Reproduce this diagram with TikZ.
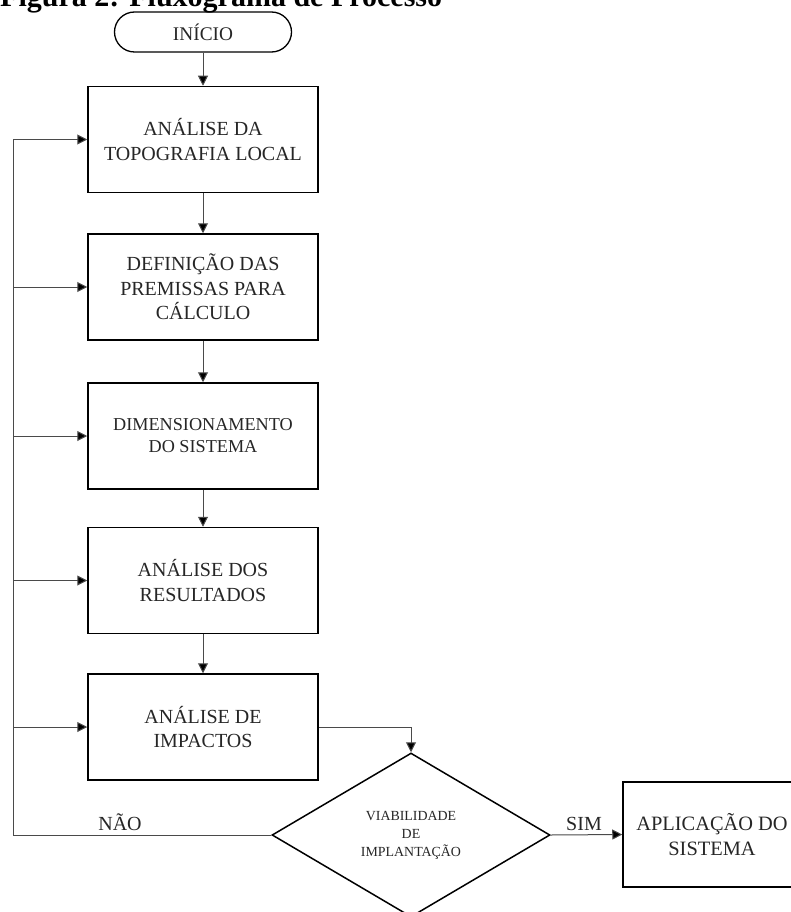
\documentclass[tikz,border=0pt]{standalone}
\usepackage{fontspec}
\setmainfont{Liberation Serif}
\usetikzlibrary{arrows.meta,shapes.geometric}
\definecolor{txt}{HTML}{262626}
\definecolor{conn}{HTML}{4A4A4A}
\tikzset{
  procbox/.style={draw=black, line width=1.5pt, minimum width=230pt, minimum height=106pt, align=center, inner sep=2pt, text=txt, font=\fontsize{20}{24.5}\selectfont},
  termbox/.style={draw=black, line width=1.3pt, rounded corners=20pt, minimum width=177pt, minimum height=40pt, text=txt, font=\fontsize{19.3}{23}\selectfont},
  decbox/.style={draw=black, line width=1.5pt, shape=diamond, minimum width=278pt, minimum height=164pt, inner sep=0pt, align=center, text=txt, font=\fontsize{13.9}{18}\selectfont},
  conn/.style={draw=conn, line width=1pt},
  arr/.style={conn, -{Triangle[length=10pt,width=10pt,fill=black]}},
  lbl/.style={text=txt, font=\fontsize{20}{24}\selectfont, inner sep=0pt}
}
\begin{document}
\begin{tikzpicture}[x=1pt,y=-1pt]
\useasboundingbox (0,0) rectangle (790,912);
\node[anchor=base west, inner sep=0pt, font=\fontsize{30}{36}\selectfont\bfseries] (title) at (0,7) {Figura 2: Fluxograma de Processo};
\node[termbox] (start) at (203,32) {INÍCIO};
\node[procbox] (b1) at (203,139.5) {ANÁLISE DA\\TOPOGRAFIA LOCAL};
\node[procbox] (b2) at (203,287) {DEFINIÇÃO DAS\\PREMISSAS PARA\\CÁLCULO};
\node[procbox, font=\fontsize{18.2}{22}\selectfont] (b3) at (203,436) {DIMENSIONAMENTO\\DO SISTEMA};
\node[procbox] (b4) at (203,580.5) {ANÁLISE DOS\\RESULTADOS};
\node[procbox] (b5) at (203,727) {ANÁLISE DE\\IMPACTOS};
\node[decbox] (d) at (411,835) {VIABILIDADE\\DE\\IMPLANTAÇÃO};
\node[procbox, minimum width=178pt, minimum height=105pt, font=\fontsize{20.4}{25}\selectfont] (b6) at (712,834.5) {APLICAÇÃO DO\\SISTEMA};
\coordinate (L) at (13,835);
\draw[arr] (start) -- (b1);
\draw[arr] (b1) -- (b2);
\draw[arr] (b2) -- (b3);
\draw[arr] (b3) -- (b4);
\draw[arr] (b4) -- (b5);
\draw[arr] (b5.east) -| (d.north);
\draw[arr] (d.east) -- (b6.west);
\draw[conn] (d.west) -- (L) -- (L |- b1.west);
\draw[arr] (L |- b1.west) -- (b1.west);
\draw[arr] (L |- b2.west) -- (b2.west);
\draw[arr] (L |- b3.west) -- (b3.west);
\draw[arr] (L |- b4.west) -- (b4.west);
\draw[arr] (L |- b5.west) -- (b5.west);
\node[lbl, anchor=base] (nao) at (120,830) {NÃO};
\node[lbl, anchor=base] (sim) at (584,830) {SIM};
\end{tikzpicture}
\end{document}
